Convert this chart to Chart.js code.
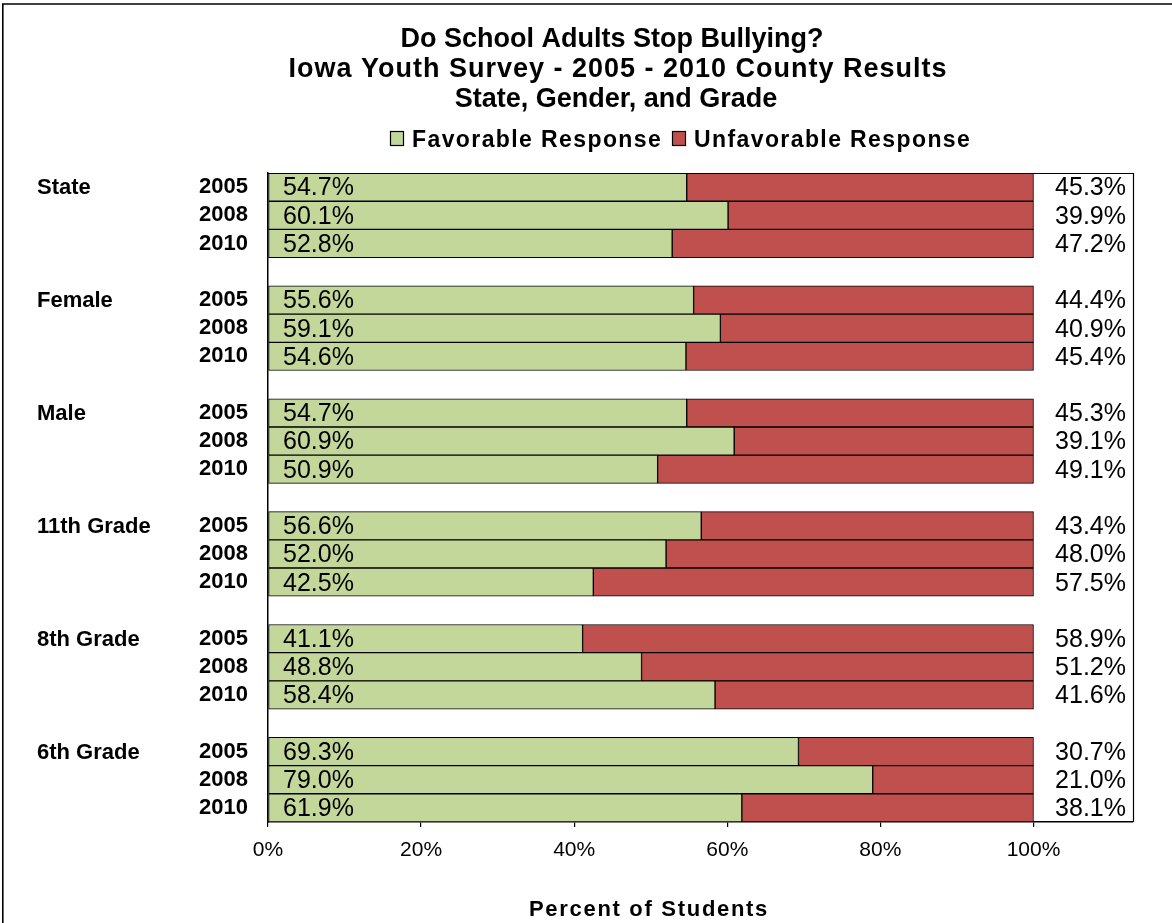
<!DOCTYPE html>
<html>
<head>
<meta charset="utf-8">
<script src="https://cdn.jsdelivr.net/npm/chart.js@4"></script>
<style>
  html, body { margin: 0; padding: 0; background: #fff; }
  canvas { display: block; }
</style>
</head>
<body>
<canvas id="c" width="1172" height="923"></canvas>
<script>
// ---- data ----
const titleLines = ['Do School Adults Stop Bullying?', 'Iowa Youth Survey - 2005 - 2010 County Results', 'State, Gender, and Grade'];
const seriesNames = ['Favorable Response', 'Unfavorable Response'];
const groups = ['State', 'Female', 'Male', '11th Grade', '8th Grade', '6th Grade'];
const years = ['2005', '2008', '2010'];
const favorable = [
  54.7, 60.1, 52.8,
  55.6, 59.1, 54.6,
  54.7, 60.9, 50.9,
  56.6, 52.0, 42.5,
  41.1, 48.8, 58.4,
  69.3, 79.0, 61.9
];
const unfavorable = [
  45.3, 39.9, 47.2,
  44.4, 40.9, 45.4,
  45.3, 39.1, 49.1,
  43.4, 48.0, 57.5,
  58.9, 51.2, 41.6,
  30.7, 21.0, 38.1
];
const xTicks = [0, 20, 40, 60, 80, 100];
const xAxisTitle = 'Percent of Students';

// ---- build rows (a blank row between groups) ----
const rowLabels = [], rowGroup = [], favRows = [], unfRows = [];
groups.forEach((g, gi) => {
  if (gi > 0) { rowLabels.push(''); rowGroup.push(''); favRows.push(null); unfRows.push(null); }
  years.forEach((y, yi) => {
    const k = gi * years.length + yi;
    rowLabels.push(y);
    rowGroup.push(yi === 0 ? g : '');
    favRows.push(favorable[k]);
    unfRows.push(unfavorable[k]);
  });
});

const FONT = '"Liberation Sans", Arial, Helvetica, sans-serif';
const GREEN = '#C4D79B';
const RED = '#C0504D';

function setSpacing(ctx, v) { try { ctx.letterSpacing = v; } catch (e) {} }

const decorPlugin = {
  id: 'decor',
  beforeDraw(chart) {
    const ctx = chart.ctx;
    ctx.save();
    ctx.fillStyle = '#fff';
    ctx.fillRect(0, 0, chart.width, chart.height);
    ctx.restore();
  },
  afterDraw(chart) {
    const ctx = chart.ctx;
    const ca = chart.chartArea;
    ctx.save();
    // outer frame (cropped on right and bottom)
    ctx.strokeStyle = '#000';
    ctx.lineWidth = 1.6;
    ctx.beginPath();
    ctx.moveTo(2.8, chart.height + 5);
    ctx.lineTo(2.8, 4);
    ctx.lineTo(chart.width + 5, 4);
    ctx.stroke();

    // plot area border (top and right)
    ctx.lineWidth = 1.2;
    ctx.beginPath();
    ctx.moveTo(ca.left, ca.top + 0.5);
    ctx.lineTo(ca.right + 0.5, ca.top + 0.5);
    ctx.lineTo(ca.right + 0.5, ca.bottom);
    ctx.stroke();

    // title
    ctx.fillStyle = '#000';
    ctx.textAlign = 'center';
    ctx.textBaseline = 'alphabetic';
    ctx.font = 'bold 27px ' + FONT;
    const tY = [47, 77, 107];
    const tX = [612, 618, 616];
    const tSp = ['0px', '1px', '0px'];
    titleLines.forEach((t, i) => { setSpacing(ctx, tSp[i]); ctx.fillText(t, tX[i], tY[i]); });

    // legend
    ctx.font = 'bold 23px ' + FONT;
    setSpacing(ctx, '1.4px');
    ctx.textAlign = 'left';
    const legX = [390, 672];
    const colors = [GREEN, RED];
    seriesNames.forEach((n, i) => {
      ctx.fillStyle = colors[i];
      ctx.fillRect(legX[i], 131, 13, 14);
      ctx.strokeStyle = '#000';
      ctx.lineWidth = 1.2;
      ctx.strokeRect(legX[i] + 0.5, 131.5, 13, 14);
      ctx.fillStyle = '#000';
      ctx.fillText(n, legX[i] + 22, 147);
    });

    // x axis title
    ctx.font = 'bold 22px ' + FONT;
    setSpacing(ctx, '1.7px');
    ctx.textAlign = 'center';
    ctx.fillText(xAxisTitle, 649, 916);
    setSpacing(ctx, '0px');

    // group labels
    const yScale = chart.scales.y;
    ctx.font = 'bold 22px ' + FONT;
    ctx.textAlign = 'left';
    ctx.textBaseline = 'middle';
    rowGroup.forEach((g, i) => {
      if (!g) return;
      ctx.fillText(g, 37, yScale.getPixelForValue(i) + 1);
    });

    // value labels
    ctx.font = '25px ' + FONT;
    const m0 = chart.getDatasetMeta(0), m1 = chart.getDatasetMeta(1);
    m0.data.forEach((bar, i) => {
      if (favRows[i] == null) return;
      ctx.textAlign = 'left';
      ctx.fillText(favRows[i].toFixed(1) + '%', ca.left + 15, bar.y + 1.5);
      ctx.textAlign = 'right';
      ctx.fillText(unfRows[i].toFixed(1) + '%', ca.right - 7, m1.data[i].y + 1.5);
    });
    ctx.restore();
  }
};

new Chart(document.getElementById('c'), {
  type: 'bar',
  data: {
    labels: rowLabels,
    datasets: [
      { label: seriesNames[0], data: favRows, backgroundColor: GREEN, borderColor: '#000', borderWidth: 1, borderSkipped: false, barPercentage: 1, categoryPercentage: 1 },
      { label: seriesNames[1], data: unfRows, backgroundColor: RED, borderColor: '#000', borderWidth: 1, borderSkipped: false, barPercentage: 1, categoryPercentage: 1 }
    ]
  },
  options: {
    indexAxis: 'y',
    responsive: false,
    animation: false,
    devicePixelRatio: 1,
    layout: { padding: { left: 0, top: 173, right: 39, bottom: 0 } },
    plugins: { legend: { display: false }, title: { display: false }, tooltip: { enabled: false } },
    scales: {
      x: {
        stacked: true,
        min: 0,
        max: 113,
        afterBuildTicks(scale) { scale.ticks = xTicks.map(v => ({ value: v })); },
        afterFit(scale) { scale.height = 101; },
        ticks: {
          color: '#000',
          font: { family: FONT, size: 21 },
          padding: 11,
          maxRotation: 0,
          callback: v => v + '%'
        },
        grid: { drawOnChartArea: false, drawTicks: true, tickLength: 5, color: '#000', lineWidth: 1.2 },
        border: { display: true, color: '#000', width: 1.5 }
      },
      y: {
        stacked: true,
        afterFit(scale) { scale.width = 268; },
        ticks: {
          color: '#000',
          font: { family: FONT, size: 22, weight: 'bold' },
          padding: 20,
          autoSkip: false
        },
        grid: { display: false, drawTicks: false },
        border: { display: true, color: '#000', width: 1.5 }
      }
    }
  },
  plugins: [decorPlugin]
});
</script>
</body>
</html>
